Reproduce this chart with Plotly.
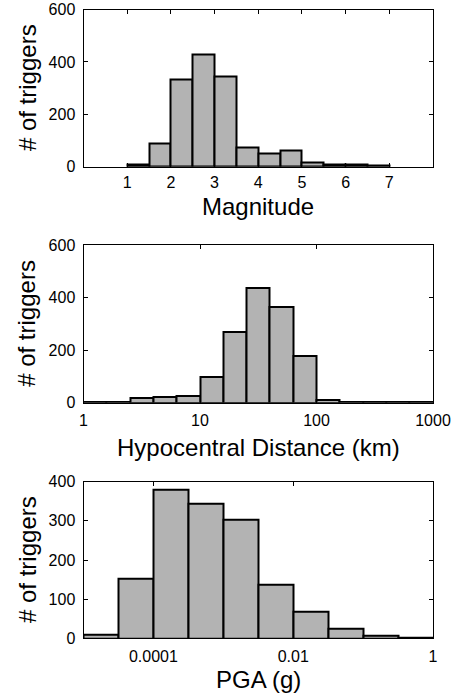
import numpy as np
import plotly.graph_objects as go

# ---------------- data ----------------
# Panel 1: magnitude histogram (bin left edges, width 0.5)
mag_bin_lo = [1.0, 1.5, 2.0, 2.5, 3.0, 3.5, 4.0, 4.5, 5.0, 5.5, 6.0, 6.5]
mag_counts = [9, 89, 334, 430, 345, 75, 50, 60, 16, 9, 8, 3]
mag_ticks = [1, 2, 3, 4, 5, 6, 7]

# Panel 2: hypocentral distance (km), log-spaced bins
dist_bin_lo = [1.0, 1.585, 2.512, 3.981, 6.310, 10.0, 15.85, 25.12, 39.81, 63.10,
               100.0, 158.5, 251.2, 398.1, 631.0]
dist_bin_hi = [1.585, 2.512, 3.981, 6.310, 10.0, 15.85, 25.12, 39.81, 63.10, 100.0,
               158.5, 251.2, 398.1, 631.0, 1000.0]
dist_counts = [1, 1, 19, 23, 27, 99, 270, 436, 364, 176, 9, 2, 1, 2, 1]
dist_ticks = [1, 10, 100, 1000]
dist_ticktext = ["1", "10", "100", "1000"]

# Panel 3: PGA (g), log-spaced bins
pga_bin_lo = [1e-5, 3.162e-5, 1e-4, 3.162e-4, 1e-3, 3.162e-3, 1e-2, 3.162e-2, 1e-1, 3.162e-1]
pga_bin_hi = [3.162e-5, 1e-4, 3.162e-4, 1e-3, 3.162e-3, 1e-2, 3.162e-2, 1e-1, 3.162e-1, 1.0]
pga_counts = [10, 153, 380, 344, 304, 136, 68, 24, 7, 1]
pga_ticks = [1e-4, 1e-2, 1.0]
pga_ticktext = ["0.0001", "0.01", "1"]

# ---------------- figure ----------------
W, H = 460, 695
FONT = "Liberation Sans, Arial, Helvetica, sans-serif"
BAR_FILL = "#b3b3b3"

fig = go.Figure()

def px_x(p):
    return p / W

def px_y(p):
    return 1 - p / H

x_dom = [px_x(83.5), px_x(433)]
panels = [
    dict(top=9.5, bot=166.7),
    dict(top=245, bot=402.7),
    dict(top=481.7, bot=638.3),
]

# Panel 1
mag_lo = np.array(mag_bin_lo)
fig.add_trace(go.Bar(
    x=mag_lo + 0.25, y=mag_counts, width=0.5,
    marker=dict(color=BAR_FILL, line=dict(color="black", width=2)),
    xaxis="x", yaxis="y", showlegend=False))

# Panel 2 (linear axis in log10 space)
dlo = np.log10(dist_bin_lo)
dhi = np.log10(dist_bin_hi)
fig.add_trace(go.Bar(
    x=(dlo + dhi) / 2, y=dist_counts, width=dhi - dlo,
    marker=dict(color=BAR_FILL, line=dict(color="black", width=2)),
    xaxis="x2", yaxis="y2", showlegend=False))

# Panel 3
plo = np.log10(pga_bin_lo)
phi = np.log10(pga_bin_hi)
fig.add_trace(go.Bar(
    x=(plo + phi) / 2, y=pga_counts, width=phi - plo,
    marker=dict(color=BAR_FILL, line=dict(color="black", width=2)),
    xaxis="x3", yaxis="y3", showlegend=False))

axis_common = dict(
    showgrid=False, zeroline=False, showline=True, linecolor="black", linewidth=1,
    mirror="ticks", ticks="inside", ticklen=4, tickwidth=1, tickcolor="black",
    automargin=False,
    tickfont=dict(family=FONT, size=16, color="black"),
)

fig.update_layout(
    width=W, height=H,
    margin=dict(l=0, r=0, t=0, b=0),
    paper_bgcolor="white", plot_bgcolor="white",
    bargap=0,
    font=dict(family=FONT, color="black"),
    xaxis=dict(domain=x_dom, anchor="y", range=[0, 8], tickvals=mag_ticks,
               ticklabelstandoff=1, **axis_common),
    yaxis=dict(domain=[px_y(panels[0]["bot"]), px_y(panels[0]["top"])], anchor="x",
               range=[0, 600], tickvals=[0, 200, 400, 600], ticklabelstandoff=4, **axis_common),
    xaxis2=dict(domain=x_dom, anchor="y2", range=[0, 3], tickvals=list(np.log10(dist_ticks)),
                ticktext=dist_ticktext, ticklabelstandoff=3, **axis_common),
    yaxis2=dict(domain=[px_y(panels[1]["bot"]), px_y(panels[1]["top"])], anchor="x2",
                range=[0, 600], tickvals=[0, 200, 400, 600], ticklabelstandoff=4, **axis_common),
    xaxis3=dict(domain=x_dom, anchor="y3", range=[-5, 0], tickvals=list(np.log10(pga_ticks)),
                ticktext=pga_ticktext, ticklabelstandoff=3, **axis_common),
    yaxis3=dict(domain=[px_y(panels[2]["bot"]), px_y(panels[2]["top"])], anchor="x3",
                range=[0, 400], tickvals=[0, 100, 200, 300, 400], ticklabelstandoff=4, **axis_common),
)

TITLE_SIZE = 24
x_titles = [("Magnitude", 207), ("Hypocentral Distance (km)", 448), ("PGA (g)", 679)]
xc = (83.5 + 433) / 2
for text, yc in x_titles:
    fig.add_annotation(text=text, x=px_x(xc), y=px_y(yc), xref="paper", yref="paper",
                       xanchor="center", yanchor="middle", showarrow=False,
                       font=dict(family=FONT, size=TITLE_SIZE, color="black"))
for p in panels:
    yc = (p["top"] + p["bot"]) / 2
    fig.add_annotation(text="# of triggers", x=px_x(27), y=px_y(yc), xref="paper", yref="paper",
                       xanchor="center", yanchor="middle", textangle=-90, showarrow=False,
                       font=dict(family=FONT, size=TITLE_SIZE, color="black"))

fig.write_html("out.html", config={"displayModeBar": False},
               post_script="document.body.style.margin='0';")
